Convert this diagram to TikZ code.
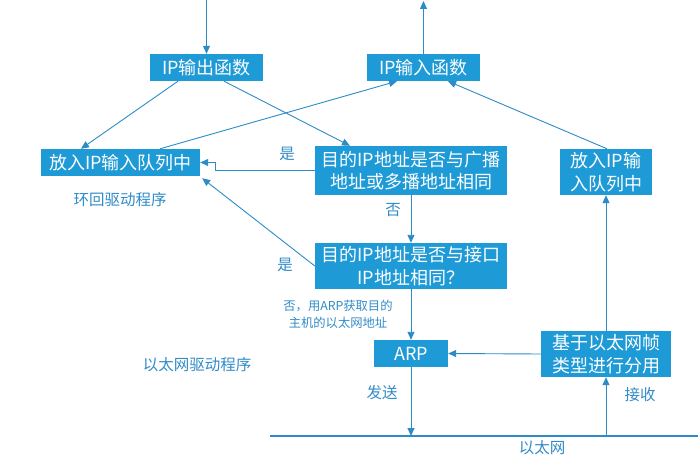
\documentclass[tikz,border=0pt]{standalone}
\usepackage{fontspec}
\setmainfont{Noto Sans CJK SC}
\newfontfamily\cjk{Noto Sans CJK SC}
\usetikzlibrary{arrows.meta,calc}
\definecolor{boxblue}{RGB}{30,154,215}
\definecolor{lineblue}{RGB}{45,140,200}
\definecolor{txtblue}{RGB}{50,140,200}
\tikzset{
  box/.style={draw=none,fill=boxblue,text=white,font=\cjk\fontsize{18}{22.5}\selectfont,inner sep=0pt,align=center},
  conn/.style={draw=lineblue,line width=0.9pt,-{Triangle[length=8pt,width=7pt]}},
  lab/.style={text=txtblue,font=\cjk\fontsize{15.5}{18}\selectfont,inner sep=0pt},
  smalllab/.style={text=txtblue,font=\cjk\fontsize{12.3}{17}\selectfont,inner sep=0pt,align=center}
}
\begin{document}
\begin{tikzpicture}[x=1pt,y=-1pt]
\useasboundingbox[fill=white] (0,0) rectangle (698,465);
% boxes
\node[box,minimum width=113pt,minimum height=27pt] (out) at (206.5,67.5) {IP输出函数};
\node[box,minimum width=113pt,minimum height=27pt] (in) at (423.5,67.5) {IP输入函数};
\node[box,minimum width=159pt,minimum height=27pt] (qL) at (120.5,162.5) {放入IP输入队列中};
\node[box,minimum width=192pt,minimum height=49pt] (bc) at (411,170.5) {目的IP地址是否与广播\\地址或多播地址相同};
\node[box,minimum width=92pt,minimum height=46pt] (qR) at (606,172) {放入IP输\\入队列中};
\node[box,minimum width=192pt,minimum height=46pt] (ifc) at (411,266) {目的IP地址是否与接口\\IP地址相同？};
\node[box,minimum width=74pt,minimum height=27pt] (arp) at (411,353.5) {ARP};
\node[box,minimum width=130pt,minimum height=46pt] (demux) at (606,354) {基于以太网帧\\类型进行分用};
% free ends
\coordinate (topin) at (206.5,0);
\coordinate (topout) at (423.5,1);
\coordinate (ethL) at (270,436);
\coordinate (ethR) at (698,436);
\coordinate (ethA) at (411,436);
\coordinate (ethB) at (606,436);
% ethernet line
\draw[draw=lineblue,line width=2.2pt] (ethL) -- (ethR);
% connectors
\draw[conn] (topin) -- (out.north);
\draw[conn] (in.north) -- (topout);
\draw[conn] ([xshift=-28.5pt]out.south) -- ([xshift=-39.5pt]qL.north);
\draw[conn] ([xshift=17.5pt]out.south) -- ([xshift=-61pt]bc.north);
\draw[conn] ([xshift=39.5pt]qL.north) -- ([xshift=-26.5pt]in.south);
\draw[conn] ([xshift=1pt]qR.north) -- ([xshift=24.5pt]in.south);
\draw[conn] (bc.west) -| ([xshift=15pt]qL.east) -- (qL.east);
\draw[conn] (ifc.west) -- ([xshift=2pt,yshift=-2pt]qL.south east);
\draw[conn] (bc.south) -- (ifc.north);
\draw[conn] (ifc.south) -- (arp.north);
\draw[conn] (demux.west) -- (arp.east);
\draw[conn] (arp.south) -- (ethA);
\draw[conn] (ethB) -- (demux.south);
\draw[conn] (demux.north) -- (qR.south);
% labels
\node[lab] (l1) at (287,154) {是};
\node[lab] (l2) at (393,210) {否};
\node[lab] (l3) at (285,265) {是};
\node[smalllab] (l4) at (338,314.5) {否，用ARP获取目的\\主机的以太网地址};
\node[lab] (l5) at (382,393) {发送};
\node[lab] (l6) at (640,395) {接收};
\node[lab] (l7) at (542,448) {以太网};
\node[lab] (l8) at (120,200) {环回驱动程序};
\node[lab] (l9) at (197,365) {以太网驱动程序};
\end{tikzpicture}
\end{document}
